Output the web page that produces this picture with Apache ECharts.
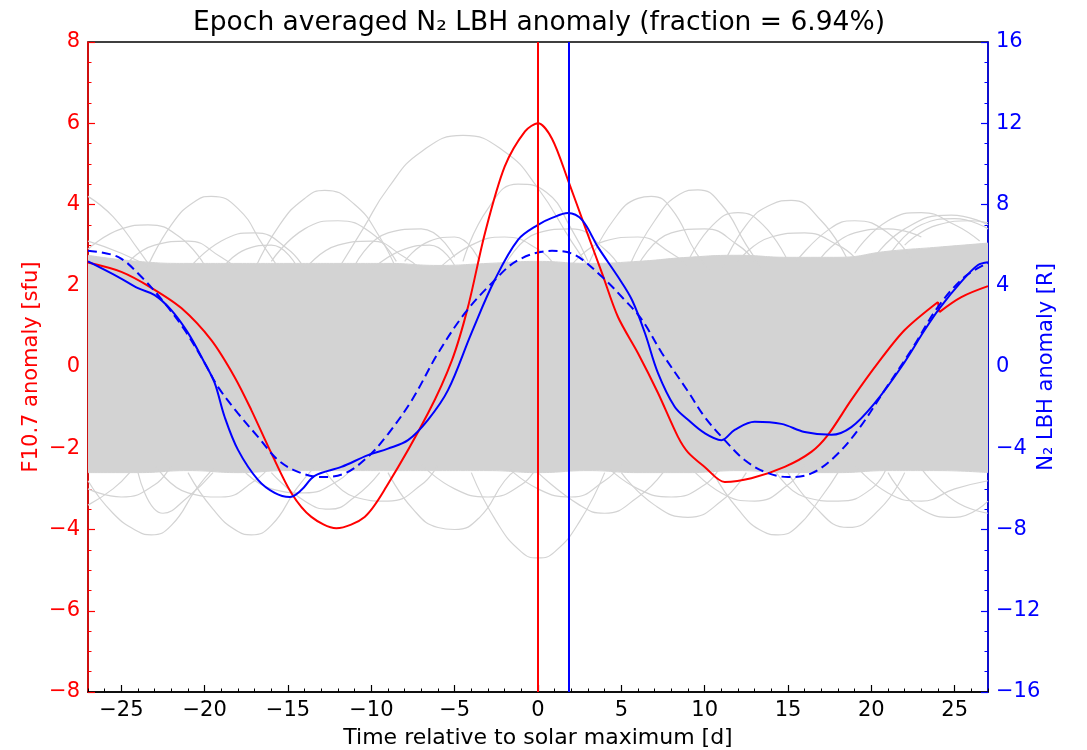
<!DOCTYPE html>
<html><head><meta charset="utf-8">
<script src="https://cdn.jsdelivr.net/npm/echarts@6/dist/echarts.min.js"></script>
<style>html,body{margin:0;padding:0;background:#fff}#c{width:1087px;height:750px}</style>
</head><body><div id="c"></div>
<script>
// ---- data ----
const xTickLabels = [-25, -20, -15, -10, -5, 0, 5, 10, 15, 20, 25];

// F10.7 anomaly [sfu] (left axis) - part before and after the small step at day 24
const redCurveA = [[-27,2.57],[-25,2.34],[-23.2,1.95],[-21.4,1.45],[-19.6,0.66],[-18.2,-0.25],[-17.2,-1.06],[-16,-2.12],[-14.8,-3.1],[-13.6,-3.69],[-12.1,-3.97],[-10.4,-3.69],[-9.1,-2.95],[-6.6,-1.14],[-5.16,0.17],[-4.2,1.48],[-3.18,3.3],[-2,4.93],[-0.78,5.8],[0,6.0],[0.84,5.62],[1.8,4.6],[2.82,3.45],[3.84,2.31],[4.8,1.23],[6,0.34],[7.2,-0.64],[8.4,-1.72],[9,-2.1],[10,-2.46],[11.2,-2.83],[12.8,-2.74],[14.8,-2.46],[16.4,-2.09],[17.4,-1.67],[18.8,-0.81],[20.4,0.1],[22,0.91],[24,1.6]];
const redCurveB = [[24,1.6],[24.08,1.35]];
const redCurveC = [[24.08,1.35],[25.4,1.72],[27,1.99]];

// N2 LBH anomaly [R] (right axis), solid
const blueCurve = [[-27,5.2],[-25.2,4.44],[-24,3.88],[-23,3.54],[-22,2.8],[-21,1.68],[-20,0.2],[-19.4,-0.78],[-18.8,-2.46],[-18,-4.08],[-16.8,-5.56],[-15.8,-6.2],[-14.9,-6.4],[-14.2,-6.06],[-13.4,-5.36],[-11.8,-4.92],[-10.2,-4.34],[-9,-4.02],[-7.8,-3.6],[-6.6,-2.6],[-5.4,-1.14],[-4,1.66],[-2.6,4.28],[-1.2,6.26],[0,7.0],[0.84,7.34],[1.8,7.58],[2.64,7.24],[3.6,5.9],[4.8,4.44],[5.64,3.3],[6.42,1.66],[7.2,-0.3],[8.2,-1.96],[9,-2.6],[10,-3.26],[11,-3.6],[11.8,-3.1],[13,-2.7],[14.6,-2.8],[16,-3.2],[17.6,-3.34],[18.8,-2.96],[20.2,-1.78],[21.8,0.0],[23.2,1.82],[24.1,2.9],[25.4,4.2],[26.4,5.02],[27,5.16]];

// N2 LBH anomaly [R] (right axis), dashed
const blueDashed = [[-27,5.72],[-25.2,5.42],[-23.8,4.44],[-22.4,3.14],[-21.2,1.82],[-20,0.2],[-19.2,-0.98],[-18,-2.28],[-16.8,-3.44],[-15.6,-4.58],[-14.4,-5.16],[-13,-5.42],[-11.6,-5.24],[-10.2,-4.42],[-9,-3.3],[-7.56,-1.62],[-6,0.68],[-4.38,2.66],[-2.76,4.14],[-1.2,5.26],[0.84,5.72],[2.2,5.52],[3.84,4.44],[5.2,3.3],[6.24,2.32],[7.44,0.68],[9,-1.2],[10,-2.46],[11.2,-3.6],[12.4,-4.58],[13.6,-5.16],[15,-5.42],[16.4,-5.24],[17.8,-4.42],[19.2,-3.1],[20.8,-1.14],[22.4,0.84],[24,2.96],[25.6,4.44],[27,5.12]];

const redMarkerDay = 0;
const blueMarkerDay = 1.82;

// dense grey band of random epoch curves (left axis units)
const bandDays  = [-27,-24,-21,-18,-15,-12,-9,-6,-3,0,3,6,9,12,15,18,21,24,27];
const bandUpper = [2.75,2.6,2.55,2.55,2.55,2.55,2.55,2.5,2.55,2.6,2.55,2.6,2.7,2.75,2.7,2.7,2.85,2.95,3.05];
const bandLower = [-2.6,-2.6,-2.55,-2.6,-2.55,-2.55,-2.55,-2.55,-2.55,-2.6,-2.55,-2.6,-2.6,-2.55,-2.6,-2.6,-2.55,-2.55,-2.6];

// individual grey curves at the fuzzy edges of the band and beyond (left axis units)
const grayTraces = [
  [[-12,2.4],[-10.5,3.4],[-9,4.4],[-7,5.3],[-4.5,5.7],[-2,5.3],[0,4.4],[2,3.1],[3.5,2.2]],
  [[-17,2.4],[-15.5,3.5],[-14,4.15],[-12.8,4.35],[-11,4.0],[-9.5,3.2],[-8.5,2.4]],
  [[-23.5,2.4],[-22,3.5],[-20.5,4.1],[-19.6,4.2],[-18,3.9],[-16.5,3.0],[-15.5,2.4]],
  [[-27,4.2],[-25.5,3.7],[-24,2.9],[-23,2.3]],
  [[-27,2.9],[-25,3.4],[-23.4,3.5],[-21.5,3.2],[-20,2.5]],
  [[5.5,2.5],[7,3.6],[8.5,4.25],[9.6,4.36],[11,4.0],[12.5,3.0],[13.5,2.4]],
  [[11,2.4],[12.5,3.5],[14,4.0],[15.2,4.1],[17,3.6],[18.5,2.7]],
  [[20,2.6],[22,3.4],[24.8,3.74],[27,3.5]],
  [[3,2.5],[4.5,3.6],[6,4.15],[6.8,4.2],[8,3.9],[9.5,2.8],[10.5,2.3]],
  [[-4.5,2.6],[-3,3.9],[-1.2,4.5],[0.5,4.3],[2,3.4],[3,2.6]],
  [[9,2.6],[10.5,3.5],[12,3.8],[13.5,3.5],[15,2.6]],
  [[15.5,2.6],[17.5,3.4],[19,3.6],[21,3.3],[22.5,2.6]],
  [[21,2.7],[23,3.5],[25,3.65],[27,3.4]],
  [[-16,2.6],[-14,3.4],[-12,3.6],[-10,3.3],[-8.5,2.6]],
  [[-11,2.5],[-9,3.3],[-7,3.4],[-5,2.7]],
  [[-8,2.6],[-6.5,3.1],[-5,3.2],[-3.5,2.6]],
  [[-27,3.1],[-25,2.8],[-23,2.4]],
  [[-25,2.4],[-23,3.0],[-21,3.1],[-19,2.7],[-18,2.4]],
  [[-21,2.4],[-19,3.1],[-17,3.3],[-15,2.9],[-14,2.4]],
  [[-19,2.4],[-17.5,2.9],[-16,3.0],[-14.5,2.5]],
  [[-14,2.4],[-12,3.0],[-10,3.1],[-8,2.7],[-7,2.4]],
  [[-10,2.4],[-8,2.9],[-6.5,3.0],[-5,2.5]],
  [[-6,2.4],[-4,3.0],[-2,3.2],[0,2.9],[1,2.5]],
  [[-2,2.5],[0,3.3],[2,3.4],[4,2.9],[5,2.4]],
  [[2,2.5],[4,3.1],[6,3.2],[8,2.8],[9,2.5]],
  [[6,2.5],[8,3.3],[10,3.4],[12,3.0],[13,2.6]],
  [[12,2.6],[14,3.2],[16,3.3],[18,3.0],[19,2.7]],
  [[17,2.7],[19,3.3],[21,3.4],[23,3.2]],
  [[22,3.0],[24,3.5],[26,3.6],[27,3.55]],
  [[19,2.8],[21,3.6],[23,3.8],[25,3.5],[26.5,3.1]],
  [[-4,-2.6],[-2.5,-3.8],[-1,-4.55],[0,-4.7],[1,-4.55],[2.5,-3.8],[4,-2.6]],
  [[-27,-2.8],[-25.5,-3.6],[-24,-4.05],[-23.2,-4.13],[-22,-3.9],[-20.5,-3.0],[-19.5,-2.5]],
  [[-21,-2.6],[-19.5,-3.5],[-18,-4.05],[-17.2,-4.13],[-16,-3.9],[-14.5,-3.0],[-13.5,-2.5]],
  [[10.5,-2.6],[12,-3.5],[13.5,-4.05],[14.4,-4.13],[15.5,-3.95],[17,-3.2],[18,-2.6]],
  [[-9,-2.6],[-7.5,-3.5],[-6,-3.95],[-5,-4.0],[-3.5,-3.7],[-2,-2.8],[-1.2,-2.5]],
  [[15,-2.6],[16.5,-3.4],[18.6,-3.95],[20.5,-3.5],[22,-2.6]],
  [[-16,-2.6],[-14,-3.3],[-12.5,-3.5],[-11,-3.2],[-9.5,-2.6]],
  [[5,-2.6],[7,-3.4],[9,-3.7],[11,-3.3],[12.5,-2.6]],
  [[21,-2.6],[23,-3.5],[25,-3.7],[27,-3.3]],
  [[0,-2.6],[2.5,-3.4],[4,-3.6],[6,-3.2],[7.5,-2.6]],
  [[-27,-3.4],[-25.5,-3.0],[-24.5,-2.6]],
  [[-24,-2.6],[-22.5,-3.6],[-21,-3.2],[-19.5,-2.6]],
  [[-27,-3.0],[-25,-3.2],[-23,-2.9],[-22,-2.4]],
  [[-23,-2.4],[-21,-3.1],[-19,-3.2],[-17,-2.8],[-16,-2.4]],
  [[-18,-2.4],[-16,-3.0],[-14,-3.1],[-12,-2.8],[-11,-2.4]],
  [[-13,-2.4],[-11,-3.2],[-9,-3.3],[-7,-2.9],[-6,-2.4]],
  [[-7,-2.4],[-5,-3.0],[-3,-3.2],[-1,-2.9],[0,-2.4]],
  [[-2,-2.4],[0,-3.0],[2,-3.2],[4,-2.8],[5,-2.4]],
  [[4,-2.4],[6,-3.0],[8,-3.2],[10,-2.9],[11,-2.4]],
  [[9,-2.4],[11,-3.1],[13,-3.3],[15,-2.9],[16,-2.4]],
  [[14,-2.4],[16,-3.2],[18,-3.3],[20,-3.0],[21,-2.4]],
  [[19,-2.4],[21,-3.1],[23,-3.3],[25,-3.0],[27,-2.8]],
  [[23,-2.5],[25,-3.3],[27,-3.6]]
];

// ---- chart ----
const FONT = 'DejaVu Sans';
const RED = '#ff0000', BLUE = '#0000ff', GRAY = '#d3d3d3';
const minus = v => String(v).replace('-', '\u2212');

const series = [];
series.push({type:'line', xAxisIndex:0, yAxisIndex:0, data: bandDays.map((d,i)=>[d,bandUpper[i]]),
  smooth:true, symbol:'none', silent:true, lineStyle:{width:1,color:GRAY}, areaStyle:{color:GRAY,opacity:1}});
series.push({type:'line', xAxisIndex:0, yAxisIndex:0, data: bandDays.map((d,i)=>[d,bandLower[i]]),
  smooth:true, symbol:'none', silent:true, lineStyle:{width:1,color:GRAY}, areaStyle:{color:GRAY,opacity:1}});
grayTraces.forEach(t => series.push({type:'line', xAxisIndex:0, yAxisIndex:0, data:t, smooth:0.5,
  symbol:'none', silent:true, lineStyle:{width:1.2,color:GRAY}}));
const redStyle = {width:2,color:RED};
series.push({type:'line', name:'F10.7', xAxisIndex:0, yAxisIndex:0, data:redCurveA, smooth:0.3,
  symbol:'none', lineStyle:redStyle,
  markLine:{symbol:'none', silent:true, label:{show:false}, lineStyle:{color:RED,width:2,type:'solid'}, data:[{xAxis:redMarkerDay}]}});
series.push({type:'line', xAxisIndex:0, yAxisIndex:0, data:redCurveB, symbol:'none', lineStyle:redStyle});
series.push({type:'line', xAxisIndex:0, yAxisIndex:0, data:redCurveC, smooth:0.35, symbol:'none', lineStyle:redStyle});
series.push({type:'line', name:'LBH mean', xAxisIndex:0, yAxisIndex:1, data:blueDashed, smooth:0.35,
  symbol:'none', lineStyle:{width:2,color:BLUE,type:[9,5]}});
series.push({type:'line', name:'LBH', xAxisIndex:0, yAxisIndex:1, data:blueCurve, smooth:0.35,
  symbol:'none', lineStyle:{width:2,color:BLUE},
  markLine:{symbol:'none', silent:true, label:{show:false}, lineStyle:{color:BLUE,width:2,type:'solid'}, data:[{xAxis:blueMarkerDay}]}});

const chart = echarts.init(document.getElementById('c'), null, {renderer:'canvas'});
chart.setOption({
  animation:false,
  backgroundColor:'#fff',
  textStyle:{fontFamily:FONT},
  title:{text:'Epoch averaged N\u2082 LBH anomaly (fraction = 6.94%)', left:534, top:5, textAlign:'center',
    textStyle:{fontFamily:FONT, fontSize:26.5, fontWeight:'normal', color:'#000'}},
  grid:{left:88, right:99, top:42, bottom:58, show:true, borderColor:'#000', borderWidth:1.5, outerBoundsMode:'none'},
  xAxis:[
    {type:'value', min:-27, max:27, position:'bottom',
     name:'Time relative to solar maximum [d]', nameLocation:'middle', nameGap:35, nameMoveOverlap:false,
     nameTextStyle:{fontFamily:FONT, fontSize:22, color:'#000'},
     axisLine:{show:true, onZero:false, lineStyle:{color:'#000', width:1.5}},
     axisTick:{show:true, inside:true, length:7, customValues:xTickLabels, lineStyle:{color:'#000', width:1.2}},
     axisLabel:{show:true, customValues:xTickLabels, formatter:minus, fontFamily:FONT, fontSize:21, color:'#000', margin:8},
     splitLine:{show:false}},
    {type:'value', min:-27, max:27, interval:1, position:'bottom',
     axisLine:{show:false, onZero:false},
     axisTick:{show:true, inside:true, length:3.5, lineStyle:{color:'#000', width:1}},
     axisLabel:{show:false}, splitLine:{show:false}}
  ],
  yAxis:[
    {type:'value', min:-8, max:8, interval:2, position:'left',
     name:'F10.7 anomaly [sfu]', nameLocation:'middle', nameGap:46, nameRotate:90, nameMoveOverlap:false,
     nameTextStyle:{fontFamily:FONT, fontSize:21, color:RED},
     axisLine:{show:true, onZero:false, lineStyle:{color:RED, width:1.5}},
     axisTick:{show:true, inside:true, length:7, lineStyle:{color:RED, width:1.2}},
     minorTick:{show:true, splitNumber:4, length:3.5, lineStyle:{color:RED, width:1}},
     axisLabel:{formatter:minus, fontFamily:FONT, fontSize:21, color:RED, margin:8},
     splitLine:{show:false}},
    {type:'value', min:-16, max:16, interval:4, position:'right',
     name:'N\u2082 LBH anomaly [R]', nameLocation:'middle', nameGap:48, nameRotate:90, nameMoveOverlap:false,
     nameTextStyle:{fontFamily:FONT, fontSize:21, color:BLUE},
     axisLine:{show:true, onZero:false, lineStyle:{color:BLUE, width:1.5}},
     axisTick:{show:true, inside:true, length:7, lineStyle:{color:BLUE, width:1.2}},
     minorTick:{show:true, splitNumber:4, length:3.5, lineStyle:{color:BLUE, width:1}},
     axisLabel:{formatter:minus, fontFamily:FONT, fontSize:21, color:BLUE, margin:8},
     splitLine:{show:false}}
  ],
  series: series
});
</script>
</body></html>
